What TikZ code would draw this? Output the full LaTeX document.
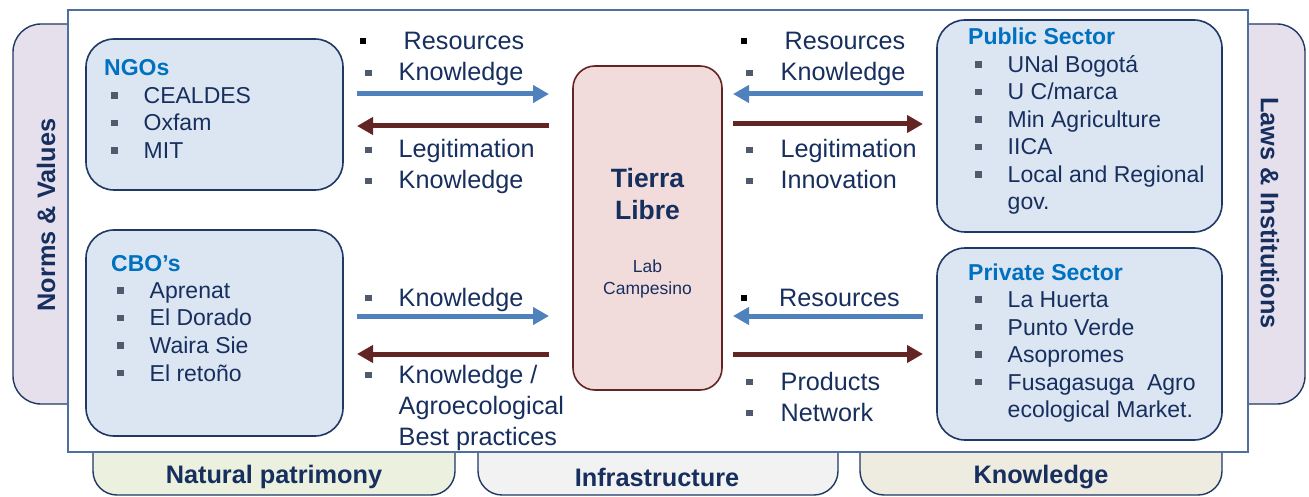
\documentclass[tikz,border=0pt]{standalone}
\usepackage{fontspec}
\setmainfont{Liberation Sans}
\usepackage{tikz}
\usetikzlibrary{arrows.meta}

\definecolor{navy}{HTML}{172F5E}
\definecolor{edgenavy}{HTML}{1F3864}
\definecolor{headblue}{HTML}{0070C0}
\definecolor{boxfill}{HTML}{DCE6F2}
\definecolor{framecol}{HTML}{4F6F9C}
\definecolor{arrblue}{HTML}{4F81BD}
\definecolor{arrbrown}{HTML}{632523}
\definecolor{tlfill}{HTML}{F2DCDB}
\definecolor{tabviolet}{HTML}{E6E0EC}
\definecolor{tabgreen}{HTML}{EBF1DE}
\definecolor{tabgray}{HTML}{F2F2F2}
\definecolor{tabbeige}{HTML}{EEECE1}
\definecolor{bulletgray}{HTML}{4F5B6C}

\newcommand{\gsq}{\textcolor{bulletgray}{\rule[4.8pt]{6.5pt}{6.5pt}}}
\newcommand{\ksq}{\textcolor{black}{\rule[5.5pt]{6pt}{6pt}}}

\begin{document}
\begin{tikzpicture}[x=1pt,y=-1pt,
    orgbox/.style={draw=edgenavy,line width=1.6pt,fill=boxfill,rounded corners=28pt,inner sep=0pt},
    orglist/.style={anchor=base west,inner sep=0pt,text=navy,font=\fontsize{23}{27.5}\selectfont},
    flowlbl/.style={anchor=base west,inner sep=0pt,text=navy,font=\fontsize{25.2}{31}\selectfont},
    tabbox/.style={draw=edgenavy,line width=1.4pt,rounded corners=28pt},
    tablbl/.style={text=navy,font=\fontsize{25.3}{30}\selectfont\bfseries},
    togive/.style={line width=5pt,arrblue,-{Triangle[length=16pt,width=17pt]}},
    toget/.style={line width=5pt,arrbrown,-{Triangle[length=16pt,width=17pt]}}]

    \useasboundingbox (0,0) rectangle (1309,497);

    % Side tabs
    \draw[tabbox,fill=tabviolet] (90,24) -- (13,24) -- (13,404) -- (90,404);
    \draw[tabbox,fill=tabviolet] (1230,24) -- (1305,24) -- (1305,404) -- (1230,404);

    % Bottom tabs
    \draw[tabbox,rounded corners=24pt,fill=tabgreen] (93,430) -- (93,495) -- (455,495) -- (455,430);
    \draw[tabbox,rounded corners=24pt,fill=tabgray] (478,430) -- (478,495) -- (838,495) -- (838,430);
    \draw[tabbox,rounded corners=24pt,fill=tabbeige] (860,430) -- (860,495) -- (1222,495) -- (1222,430);

    % Main frame
    \draw[framecol,line width=1.6pt,fill=white] (68,10) rectangle (1248,452);

    % Tab labels
    \node[tablbl,rotate=90] (norms) at (46,215) {Norms \& Values};
    \node[tablbl,rotate=-90] (laws) at (1270,213) {Laws \& Institutions};
    \node[tablbl] (natpat) at (274,477) {Natural patrimony};
    \node[tablbl] (infra) at (657,477) {Infrastructure};
    \node[tablbl] (know) at (1041,477) {Knowledge};

    % Actor boxes
    \node[orgbox,minimum width=257pt,minimum height=151pt] (ngo) at (214.5,114.5) {};
    \node[orgbox,minimum width=257pt,minimum height=206pt] (cbo) at (214.5,333) {};
    \node[orgbox,minimum width=285pt,minimum height=212pt] (pub) at (1079.5,126) {};
    \node[orgbox,minimum width=285pt,minimum height=192pt] (priv) at (1079.5,344) {};

    \node[orglist] (ngoL) at (111,76) {\begin{tabular}[t]{@{}l@{\hspace{26pt}}l@{}}
        \multicolumn{2}{@{\hspace*{-7pt}}l}{\textcolor{headblue}{\bfseries NGOs}}\\
        \gsq & CEALDES\\ \gsq & Oxfam\\ \gsq & MIT
      \end{tabular}};
    \node[orglist] (cboL) at (117,271) {\begin{tabular}[t]{@{}l@{\hspace{26pt}}l@{}}
        \multicolumn{2}{@{\hspace*{-6pt}}l}{\textcolor{headblue}{\bfseries CBO’s}}\\
        \gsq & Aprenat\\ \gsq & El Dorado\\ \gsq & Waira Sie\\ \gsq & El retoño
      \end{tabular}};
    \node[orglist] (pubL) at (975,45) {\begin{tabular}[t]{@{}l@{\hspace{26pt}}l@{}}
        \multicolumn{2}{@{\hspace*{-7pt}}l}{\textcolor{headblue}{\bfseries Public Sector}}\\
        \gsq & UNal Bogotá\\ \gsq & U C/marca\\ \gsq & Min Agriculture\\ \gsq & IICA\\
        \gsq & Local and Regional\\ & gov.
      \end{tabular}};
    \node[orglist] (privL) at (975,280) {\begin{tabular}[t]{@{}l@{\hspace{26pt}}l@{}}
        \multicolumn{2}{@{\hspace*{-7pt}}l}{\textcolor{headblue}{\bfseries Private Sector}}\\
        \gsq & La Huerta\\ \gsq & Punto Verde\\ \gsq & Asopromes\\
        \gsq & Fusagasuga\ \ Agro\\ & ecological Market.
      \end{tabular}};

    % Tierra Libre
    \node[draw=arrbrown,line width=1.6pt,fill=tlfill,rounded corners=22pt,
          minimum width=149pt,minimum height=324pt] (tl) at (647.5,228) {};
    \node[text=navy,align=center,font=\fontsize{26.5}{32}\selectfont\bfseries] (tlname) at (647.5,194) {Tierra\\Libre};
    \node[text=navy,align=center,font=\fontsize{17.5}{22}\selectfont] (tllab) at (647.5,279) {Lab\\Campesino};

    % Flow labels
    \node[flowlbl] (ngoIn) at (365,50) {\begin{tabular}[t]{@{}l@{\hspace{27pt}}l@{}}
        \hspace*{-5pt}\ksq & \hspace*{5pt}Resources\\ \gsq & Knowledge\end{tabular}};
    \node[flowlbl] (ngoOut) at (365,158) {\begin{tabular}[t]{@{}l@{\hspace{27pt}}l@{}}
        \gsq & Legitimation\\ \gsq & Knowledge\end{tabular}};
    \node[flowlbl] (cboIn) at (365,306) {\begin{tabular}[t]{@{}l@{\hspace{27pt}}l@{}}
        \gsq & Knowledge\end{tabular}};
    \node[flowlbl] (cboOut) at (365,383) {\begin{tabular}[t]{@{}l@{\hspace{27pt}}l@{}}
        \gsq & Knowledge /\\ & Agroecological\\ & Best practices\end{tabular}};
    \node[flowlbl] (pubIn) at (746,50) {\begin{tabular}[t]{@{}l@{\hspace{28pt}}l@{}}
        \hspace*{-5pt}\ksq & \hspace*{4pt}Resources\\ \gsq & Knowledge\end{tabular}};
    \node[flowlbl] (pubOut) at (746,158) {\begin{tabular}[t]{@{}l@{\hspace{28pt}}l@{}}
        \gsq & Legitimation\\ \gsq & Innovation\end{tabular}};
    \node[flowlbl] (privIn) at (746,306) {\begin{tabular}[t]{@{}l@{\hspace{28pt}}l@{}}
        \hspace*{-5pt}\ksq & \hspace*{4pt}Resources\end{tabular}};
    \node[flowlbl] (privOut) at (746,390) {\begin{tabular}[t]{@{}l@{\hspace{28pt}}l@{}}
        \gsq & Products\\ \gsq & Network\end{tabular}};

    % Arrow end points
    \coordinate (ngoA) at (357,94);   \coordinate (tlA) at (549,94);
    \coordinate (ngoB) at (357,126);  \coordinate (tlB) at (549,126);
    \coordinate (cboA) at (357,316);  \coordinate (tlC) at (549,316);
    \coordinate (cboB) at (357,354);  \coordinate (tlD) at (549,354);
    \coordinate (pubA) at (923,94);   \coordinate (tlE) at (733,94);
    \coordinate (pubB) at (923,124);  \coordinate (tlF) at (733,124);
    \coordinate (privA) at (923,316); \coordinate (tlG) at (733,316);
    \coordinate (privB) at (923,354); \coordinate (tlH) at (733,354);

    % Draw flows
    \draw[togive] (ngoA) -- (tlA);
    \draw[toget] (tlB) -- (ngoB);
    \draw[togive] (cboA) -- (tlC);
    \draw[toget] (tlD) -- (cboB);
    \draw[togive] (pubA) -- (tlE);
    \draw[toget] (tlF) -- (pubB);
    \draw[togive] (privA) -- (tlG);
    \draw[toget] (tlH) -- (privB);

\end{tikzpicture}
\end{document}
